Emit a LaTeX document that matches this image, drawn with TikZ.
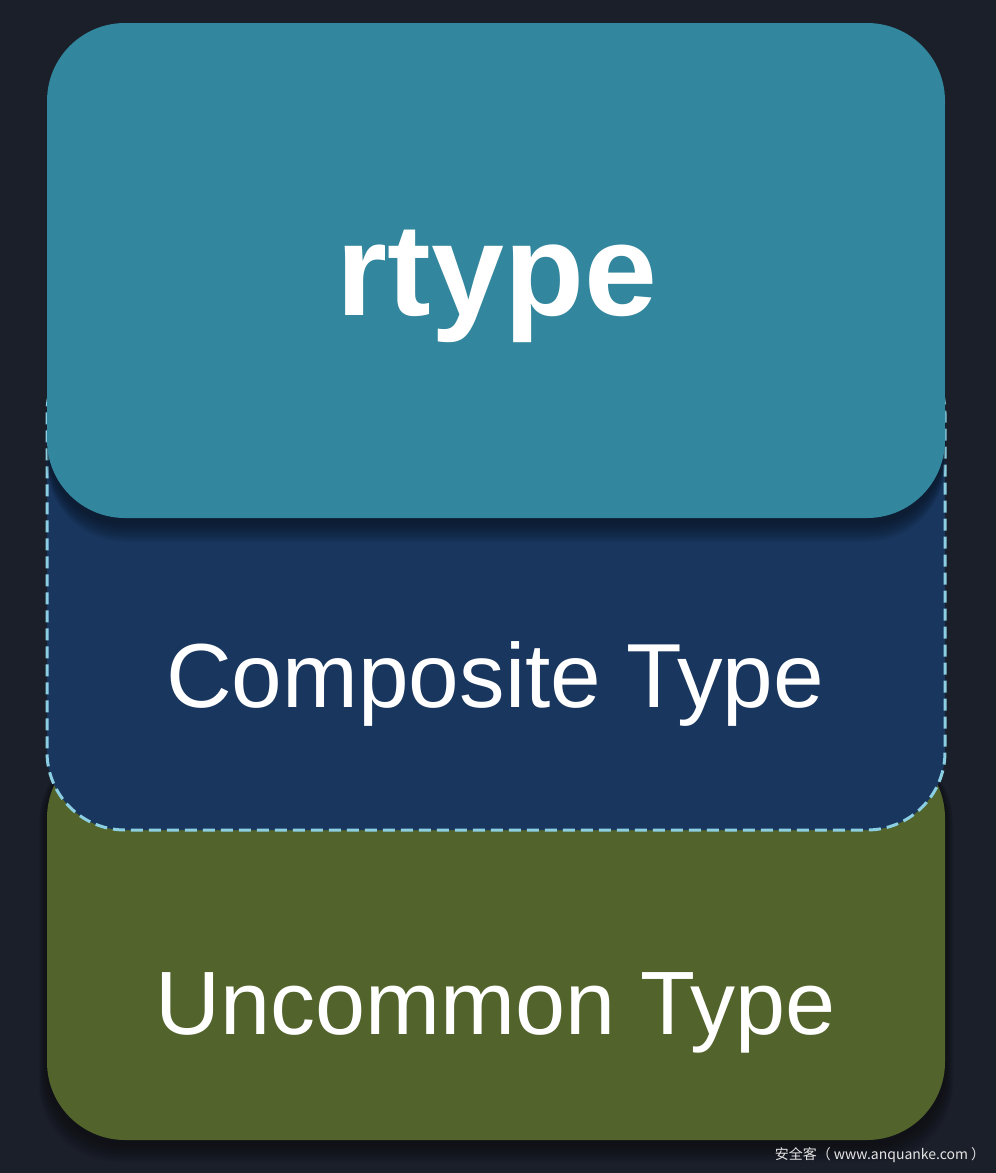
\documentclass[tikz,border=0pt]{standalone}
\usepackage{fontspec}
\setmainfont{Liberation Sans}
\newfontfamily\cjkfont{Noto Sans CJK SC}
\usetikzlibrary{positioning}

\definecolor{bgdark}{HTML}{1B1F29}
\definecolor{rtypefill}{HTML}{32869D}
\definecolor{compfill}{HTML}{19365E}
\definecolor{uncomfill}{HTML}{52632B}
\definecolor{dashblue}{HTML}{8CCFE3}

\begin{document}
\begin{tikzpicture}[x=1pt, y=-1pt,
    layer/.style={rectangle, rounded corners=78pt, minimum width=898pt, inner sep=0pt, outer sep=0pt},
    label/.style={text=white, anchor=base, inner sep=0pt}]

    \fill[bgdark] (0,0) rectangle (996,1173);
    \useasboundingbox (0,0) rectangle (996,1173);

    % soft shadow under the bottom layer
    \foreach \s in {1,...,10}
    {
        \fill[black, opacity=0.045, rounded corners=78pt] (47-\s*0.8,740+4) rectangle (945+\s*0.8,1140+4+\s*1.8);
    }

    % the three layers, bottom to top
    \node[layer, fill=uncomfill, minimum height=400pt] (uncommon) at (496,940) {};
    \node[layer, fill=compfill, draw=dashblue, line width=3pt, dash pattern=on 12pt off 6pt, minimum height=495pt] (composite) at (496,582.5) {};
    % soft shadow under the top layer
    \foreach \s in {1,...,10}
    {
        \fill[black, opacity=0.05, rounded corners=78pt] (47,23+4) rectangle (945,518+4+\s*2);
    }
    \node[layer, fill=rtypefill, minimum height=495pt] (rtype) at (496,270.5) {};

    % labels
    \node[label, font=\fontsize{131}{131}\selectfont\bfseries] (rtypetext) at (497,315) {rtype};
    \node[label, font=\fontsize{91}{91}\selectfont] (comptext) at (495,707) {Composite Type};
    \node[label, font=\fontsize{90}{90}\selectfont] (uncomtext) at (495.5,1034) {Uncommon Type};

    % watermark
    \node[label, text=white!90!black, font=\cjkfont\fontsize{14}{14}\selectfont] (mark) at (880,1159) {安全客（ www.anquanke.com ）};

\end{tikzpicture}
\end{document}
